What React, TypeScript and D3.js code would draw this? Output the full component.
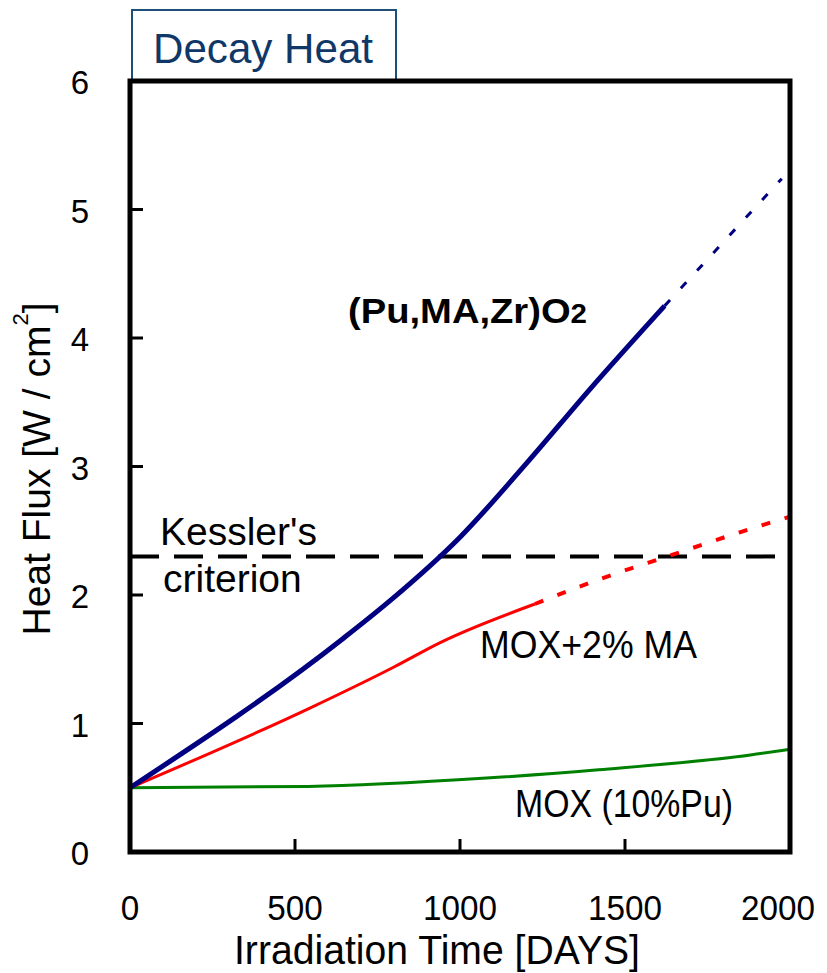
import React from "react";
import * as d3 from "d3";

const W = 827;
const H = 973;

// Data (days, W/cm2)
const puMaZrSolid: [number, number][] = [
  [0, 0.5], [645, 1.66], [790, 1.96], [1000, 2.45], [1200, 3.02], [1400, 3.62], [1620, 4.25],
];
const puMaZrDashed: [number, number][] = [
  [1620, 4.25], [1975, 5.24],
];
const moxMaSolid: [number, number][] = [
  [0, 0.5], [545, 1.12], [800, 1.44], [940, 1.63], [1227, 1.93],
];
const moxMaDotted: [number, number][] = [
  [1227, 1.93], [1420, 2.12], [1640, 2.31], [1850, 2.49], [2000, 2.61],
];
const moxPu: [number, number][] = [
  [0, 0.5], [540, 0.51], [1080, 0.575], [1420, 0.64], [1880, 0.755], [2000, 0.8],
];
const kesslerValue = 2.3;
const kesslerRange = [0, 1955];

const xTicks = [0, 500, 1000, 1500, 2000];
const yTicks = [0, 1, 2, 3, 4, 5, 6];

const FONT = "'Liberation Sans', Arial, Helvetica, sans-serif";

export default function App() {
  const x = d3.scaleLinear().domain([0, 2000]).range([130, 790]);
  const y = d3.scaleLinear().domain([0, 6]).range([852, 81]);
  const line = d3
    .line<[number, number]>()
    .x((d) => x(d[0]))
    .y((d) => y(d[1]))
    .curve(d3.curveMonotoneX);

  return (
    <svg
      width={W}
      height={H}
      style={{ position: "absolute", left: 0, top: 0, background: "#fff" }}
      fontFamily={FONT}
    >
      <rect x={0} y={0} width={W} height={H} fill="#fff" />
      {/* title box */}
      <rect x={132} y={10} width={264} height={72} fill="#fff" stroke="#1F4E79" strokeWidth={2} />
      <text x={153} y={63} fontSize={42} fill="#0F3868" textLength={220} lengthAdjust="spacingAndGlyphs">
        Decay Heat
      </text>

      {/* Kessler's criterion */}
      <line
        x1={x(kesslerRange[0])}
        x2={x(kesslerRange[1])}
        y1={y(kesslerValue)}
        y2={y(kesslerValue)}
        stroke="#000"
        strokeWidth={4}
        strokeDasharray="29 15"
      />

      {/* series */}
      <path d={line(moxPu) || ""} fill="none" stroke="#008000" strokeWidth={3} />
      <path d={line(moxMaSolid) || ""} fill="none" stroke="#FF0000" strokeWidth={3} />
      <path d={line(moxMaDotted) || ""} fill="none" stroke="#FF0000" strokeWidth={4} strokeDasharray="9 15" />
      <path d={line(puMaZrSolid) || ""} fill="none" stroke="#000080" strokeWidth={5} />
      <path d={line(puMaZrDashed) || ""} fill="none" stroke="#000080" strokeWidth={3} strokeDasharray="8 16" />

      {/* frame */}
      <rect x={130} y={81} width={660} height={771} fill="none" stroke="#000" strokeWidth={5} />
      {yTicks.filter((t) => t > 0 && t < 6).map((t) => (
        <line key={"yt" + t} x1={130} x2={143} y1={y(t)} y2={y(t)} stroke="#000" strokeWidth={3} />
      ))}
      {xTicks.filter((t) => t > 0 && t < 2000).map((t) => (
        <line key={"xt" + t} x1={x(t)} x2={x(t)} y1={852} y2={839} stroke="#000" strokeWidth={3} />
      ))}

      {/* tick labels */}
      {yTicks.map((t) => (
        <text key={"yl" + t} x={89} y={y(t) + 13} fontSize={33} textAnchor="end" fill="#000">
          {t}
        </text>
      ))}
      {xTicks.map((t) => (
        <text
          key={"xl" + t}
          x={Math.min(x(t), 778)}
          y={920}
          fontSize={35}
          textAnchor="middle"
          fill="#000"
          textLength={String(t).length * 18.5}
          lengthAdjust="spacingAndGlyphs"
        >
          {t}
        </text>
      ))}

      {/* axis titles */}
      <text x={234} y={964} fontSize={41} fill="#000" textLength={406} lengthAdjust="spacingAndGlyphs">
        Irradiation Time [DAYS]
      </text>
      <text
        transform="translate(50,469) rotate(-90)"
        fontSize={39}
        textAnchor="middle"
        fill="#000"
      >
        Heat Flux [W / cm<tspan fontSize={22} dy={-22}>2</tspan><tspan dy={22}>]</tspan>
      </text>

      {/* annotations */}
      <text x={348} y={323} fontSize={35} fontWeight="bold" fill="#000" textLength={239} lengthAdjust="spacingAndGlyphs">
        (Pu,MA,Zr)O<tspan fontSize={27}>2</tspan>
      </text>
      <text x={160} y={545} fontSize={39} fill="#000">Kessler's</text>
      <text x={163} y={592} fontSize={39} fill="#000">criterion</text>
      <text x={480} y={658} fontSize={39} fill="#000" textLength={217} lengthAdjust="spacingAndGlyphs">
        MOX+2% MA
      </text>
      <text x={515} y={817} fontSize={38} fill="#000" textLength={218} lengthAdjust="spacingAndGlyphs">
        MOX (10%Pu)
      </text>
    </svg>
  );
}
